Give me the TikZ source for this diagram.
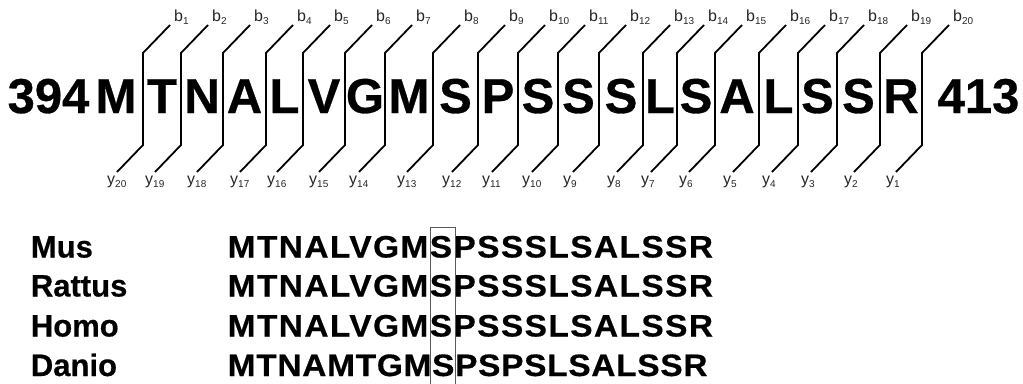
\documentclass[tikz,border=0pt]{standalone}
\usepackage{fontspec}
\setmainfont{Liberation Sans}
\newcommand\ionsub[1]{\raisebox{-3pt}{\fontsize{10}{10}\selectfont#1}}
\begin{document}
\begin{tikzpicture}[x=1pt,y=-1pt,
  big/.style={font=\fontsize{49}{49}\selectfont\bfseries\addfontfeatures{FakeBold=0.6}, inner sep=0pt, anchor=base},
  ionlab/.style={font=\fontsize{16}{16}\selectfont, inner sep=0pt, text=black!85, anchor=base west},
  sepline/.style={line width=1.8pt, line join=miter},
  species/.style={font=\fontsize{31}{31}\selectfont\bfseries\addfontfeatures{FakeBold=0.5}, inner sep=0pt, anchor=base west},
  seqrow/.style={font=\fontsize{31}{31}\selectfont\bfseries\addfontfeatures{FakeStretch=1.08,FakeBold=0.5,LetterSpace=#1}, inner sep=0pt, anchor=base west},
  markbox/.style={draw=black!65, line width=1pt}
]
\useasboundingbox (0,0) rectangle (1023,383);

% top peptide
\node[big] (n394) at (48.5,113) {394};
\node[big] (n413) at (978.5,113) {413};
\foreach \l/\x [count=\i] in {M/116,T/162,N/202,A/244.5,L/284.5,V/324,G/365,M/409,S/455.5,P/498,S/538,S/578.5,S/621,L/660,S/696,A/737,L/778.5,S/817.5,S/858.5,R/901}
  \node[big] (res\i) at (\x,113) {\l};

% fragmentation separators with b and y labels
\foreach \x [count=\i] in {143,181,223,266,303,345,385,433,478,518,558,599,643,677,715,759,798,837,880,922}{
  \pgfmathtruncatemacro{\j}{21-\i}
  \coordinate (bend\i) at (\x+27,25);
  \coordinate (yend\i) at (\x-26,172);
  \node[ionlab] (b\i) at (\x+31,21) {b\ionsub{\i}};
  \node[ionlab] (y\j) at (\x-36,184) {y\ionsub{\j}};
  \draw[sepline] (yend\i) -- (\x,145) -- (\x,53) -- (bend\i);
}

% alignment
\node[species] (mus) at (30.7,257.5) {Mus};
\node[species] (rattus) at (30.7,296.5) {Rattus};
\node[species] (homo) at (30.7,336.5) {Homo};
\node[species] (danio) at (30.7,376) {Danio};

\node[seqrow=4.5] (smus) at (227.5,257.5) {MTNALVGMSPSSSLSALSSR};
\node[seqrow=4.5] (srattus) at (227.5,296.5) {MTNALVGMSPSSSLSALSSR};
\node[seqrow=4.5] (shomo) at (227.5,336.5) {MTNALVGMSPSSSLSALSSR};
\node[seqrow=2.2] (sdanio) at (227.5,376) {MTNAMTGMSPSPSLSALSSR};

\draw[markbox] (430,227) rectangle (455,384);
\end{tikzpicture}
\end{document}
